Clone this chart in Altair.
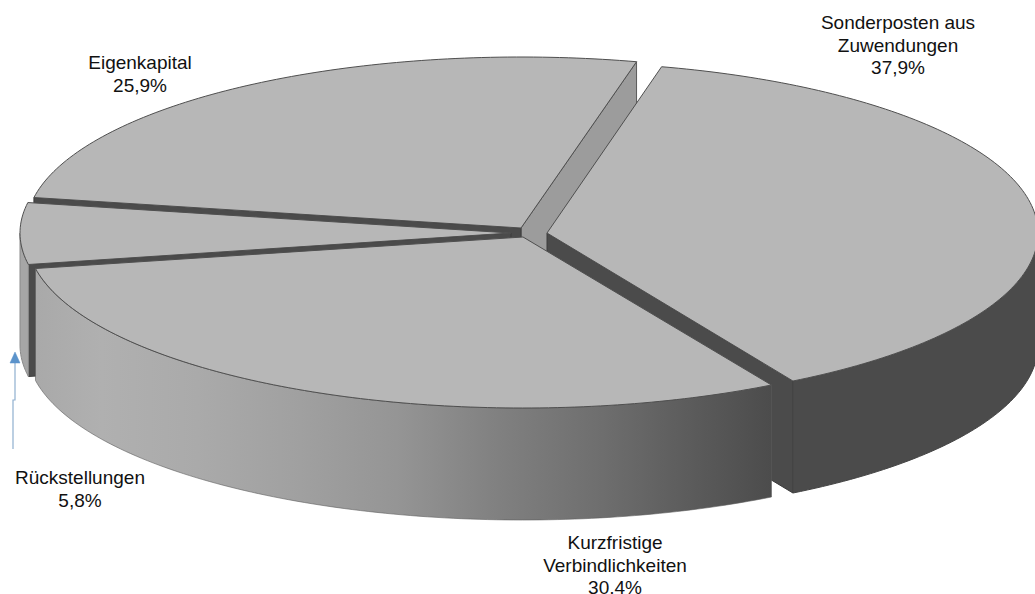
import math
import altair as alt

# Slice data, clockwise from the first slice
names = ["Sonderposten aus\nZuwendungen", "Kurzfristige\nVerbindlichkeiten", "Rückstellungen", "Eigenkapital"]
shares = [37.9, 30.4, 5.8, 25.9]

# Label anchors
label_x = [898, 615, 80, 140]
label_y = [14, 534, 469, 54]

# Pie geometry: tilted disc seen as an ellipse, each slice pulled off its own centre
RY, DEPTH = 171, 112
START_DEG = 13.5
radii_x = [491, 496, 491, 495]
centers = [(547, 233), (523, 237), (511, 233), (521, 228)]

TOP = "#b7b7b7"
DARK = "#4b4b4b"
MID = "#9c9c9c"
EDGE = "#4f4f4f"

# Angular range of each slice
spans = []
a = START_DEG
for s in shares:
    b = a + s * 3.6
    spans.append((a, b))
    a = b


def rim(i, deg, drop=0):
    t = math.radians(deg)
    c = centers[i]
    return [c[0] + radii_x[i] * math.sin(t), c[1] - RY * math.cos(t) + drop]


def arc(i, a0, a1, drop=0):
    n = max(int(abs(a1 - a0)), 2)
    return [rim(i, a0 + (a1 - a0) * k / n, drop) for k in range(n + 1)]


def poly(points, fill, stroke=EDGE, width=1.0):
    ring = [list(p) for p in points] + [list(points[0])]
    return {
        "type": "Feature",
        "geometry": {"type": "Polygon", "coordinates": [ring]},
        "properties": {"fill": fill, "stroke": stroke, "sw": width},
    }


def top_face(i):
    return poly([list(centers[i])] + arc(i, *spans[i]), TOP)


def cut_wall(i, deg, fill, stroke=None):
    c = centers[i]
    r = rim(i, deg)
    return poly([list(c), r, [r[0], r[1] + DEPTH], [c[0], c[1] + DEPTH]], fill, stroke or "#3c3c3c")


def outer_wall(i, a0, a1, fill, stroke=None):
    pts = arc(i, a0, a1) + arc(i, a1, a0, DEPTH)
    return poly(pts, fill, stroke or fill)


SON, KUR, RUE, EIG = 0, 1, 2, 3

# Painted back to front
back_faces = [
    cut_wall(EIG, spans[EIG][1], MID, "#5a5a5a"),
    cut_wall(EIG, spans[EIG][0], DARK),
    top_face(EIG),
    cut_wall(SON, spans[SON][1], DARK),
    outer_wall(SON, 90, spans[SON][1], DARK, "#444444"),
    top_face(SON),
    cut_wall(RUE, spans[RUE][0], DARK),
    outer_wall(RUE, spans[RUE][0], 270, "#a6a6a6", "#8a8a8a"),
    top_face(RUE),
]
kur_wall = [outer_wall(KUR, spans[KUR][0], spans[KUR][1], "#888888")]
kur_top = [top_face(KUR)]

wall_stops_pos = [0.0, 0.09, 0.22, 0.36, 0.49, 0.63, 0.77, 0.90, 1.0]
wall_stops_col = ["#a9a9a9", "#b0b0b0", "#aaaaaa", "#a0a0a0", "#959595", "#808080", "#6e6e6e", "#5a5a5a", "#4c4c4c"]

PROJ = dict(type="identity", scale=1, translate=[0, 0])


def faces(features):
    return (
        alt.Chart(alt.Data(values=features))
        .mark_geoshape(strokeJoin="round")
        .encode(
            fill=alt.Fill("properties.fill:N", scale=None),
            stroke=alt.Stroke("properties.stroke:N", scale=None),
            strokeWidth=alt.StrokeWidth("properties.sw:Q", scale=None),
        )
        .project(**PROJ)
    )


gradient = alt.LinearGradient(
    gradient="linear", x1=0, x2=1, y1=0, y2=0,
    stops=[alt.GradientStop(color=c, offset=o) for c, o in zip(wall_stops_col, wall_stops_pos)],
)
kur_wall_layer = (
    alt.Chart(alt.Data(values=kur_wall))
    .mark_geoshape(fill=gradient, stroke="#5c5c5c", strokeWidth=0.6)
    .project(**PROJ)
)

# Pointer from the small slice's label up to its rim
arrow_line = [[13, 449], [13, 400], [15, 400], [15, 362]]
arrow_head = [[15, 352], [10, 363], [20, 363]]
pointer_line = (
    alt.Chart(alt.Data(values=[{"type": "Feature", "geometry": {"type": "LineString", "coordinates": arrow_line}, "properties": {}}]))
    .mark_geoshape(filled=False, stroke="#8fb0cf", strokeWidth=1.2)
    .project(**PROJ)
)
pointer_head = (
    alt.Chart(alt.Data(values=[poly(arrow_head, "#5b93cb", "#5b93cb", 0.5)]))
    .mark_geoshape(fill="#5b93cb", stroke="#5b93cb", strokeWidth=0.5)
    .project(**PROJ)
)

label_rows = [
    {"text": f"{n}\n{s:.1f}%".replace(".", ","), "x": x, "y": y}
    for n, s, x, y in zip(names, shares, label_x, label_y)
]
labels = (
    alt.Chart(alt.Data(values=label_rows))
    .mark_text(font="Liberation Sans", fontSize=19, lineBreak="\n", lineHeight=22.5, baseline="top", align="center", color="#111111")
    .encode(
        x=alt.X("x:Q", scale=None),
        y=alt.Y("y:Q", scale=None),
        text="text:N",
    )
)

chart = (
    alt.layer(faces(back_faces), kur_wall_layer, faces(kur_top), pointer_line, pointer_head, labels)
    .properties(width=1035, height=594, padding=0, autosize=alt.AutoSizeParams(type="none"), background="white")
    .configure_view(stroke=None)
)

chart.save("out.html", embed_options={"renderer": "svg", "actions": False})
